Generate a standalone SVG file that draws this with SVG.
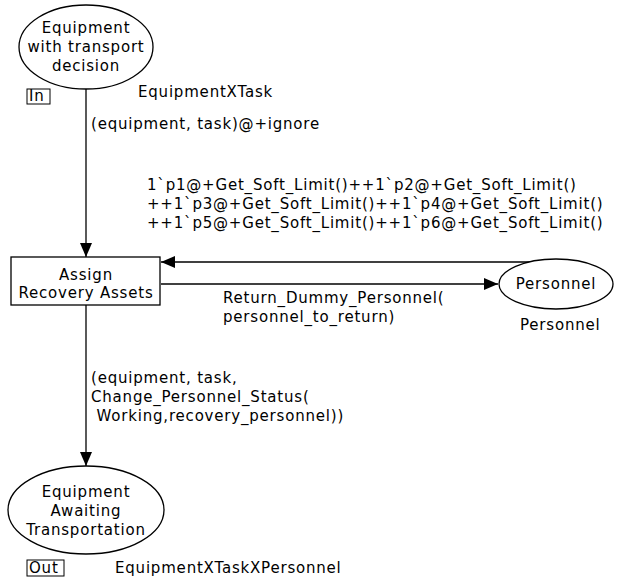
<svg xmlns="http://www.w3.org/2000/svg" width="618" height="582" viewBox="0 0 618 582">
<defs>
<marker id="ah" markerWidth="14" markerHeight="12" refX="14" refY="6" orient="auto" markerUnits="userSpaceOnUse">
<path d="M0,0 L14,6 L0,12 Z" fill="#000"/>
</marker>
<style>
text{font-family:"DejaVu Sans",Verdana,sans-serif;font-size:15px;letter-spacing:0.8px;fill:#000}
.c{text-anchor:middle}
.s{fill:#fff;stroke:#000;stroke-width:1.3}
.e{fill:none;stroke:#000;stroke-width:1.3}
</style>
</defs>
<rect width="618" height="582" fill="#fff"/>
<g id="connectors">
<line class="e" x1="86" y1="89" x2="86" y2="257" marker-end="url(#ah)"/>
<line class="e" x1="530" y1="262" x2="161" y2="262" marker-end="url(#ah)"/>
<line class="e" x1="161" y1="284" x2="498" y2="284" marker-end="url(#ah)"/>
<line class="e" x1="86" y1="305" x2="86" y2="466" marker-end="url(#ah)"/>
<text x="91" y="129">(equipment, task)@+ignore</text>
<text x="147" y="190">1`p1@+Get_Soft_Limit()++1`p2@+Get_Soft_Limit()</text>
<text x="147" y="209">++1`p3@+Get_Soft_Limit()++1`p4@+Get_Soft_Limit()</text>
<text x="147" y="228">++1`p5@+Get_Soft_Limit()++1`p6@+Get_Soft_Limit()</text>
<text x="223" y="303">Return_Dummy_Personnel(</text>
<text x="223" y="322">personnel_to_return)</text>
<text x="91" y="383">(equipment, task,</text>
<text x="91" y="402">Change_Personnel_Status(</text>
<text x="91" y="421" xml:space="preserve"> Working,recovery_personnel))</text>
</g>
<g id="equipment-with-transport-decision">
<ellipse class="s" cx="86" cy="47" rx="67" ry="42"/>
<text class="c" x="86" y="33">Equipment</text>
<text class="c" x="86" y="52">with transport</text>
<text class="c" x="86" y="71">decision</text>
<rect x="27" y="89" width="23" height="15" fill="none" stroke="#000" stroke-width="1"/>
<text x="29" y="101">In</text>
<text x="138" y="97">EquipmentXTask</text>
</g>
<g id="assign-recovery-assets">
<rect class="s" x="11" y="257" width="149" height="48"/>
<text class="c" x="86" y="280">Assign</text>
<text class="c" x="86" y="298">Recovery Assets</text>
</g>
<g id="personnel">
<ellipse class="s" cx="556" cy="284" rx="57" ry="25"/>
<text class="c" x="556" y="289">Personnel</text>
<text x="520" y="330">Personnel</text>
</g>
<g id="equipment-awaiting-transportation">
<ellipse class="s" cx="86" cy="510" rx="78" ry="44"/>
<text class="c" x="86" y="497">Equipment</text>
<text class="c" x="86" y="516">Awaiting</text>
<text class="c" x="86" y="535">Transportation</text>
<rect x="27" y="560" width="37" height="16" fill="none" stroke="#000" stroke-width="1"/>
<text x="29" y="573">Out</text>
<text x="115" y="573">EquipmentXTaskXPersonnel</text>
</g>
</svg>
